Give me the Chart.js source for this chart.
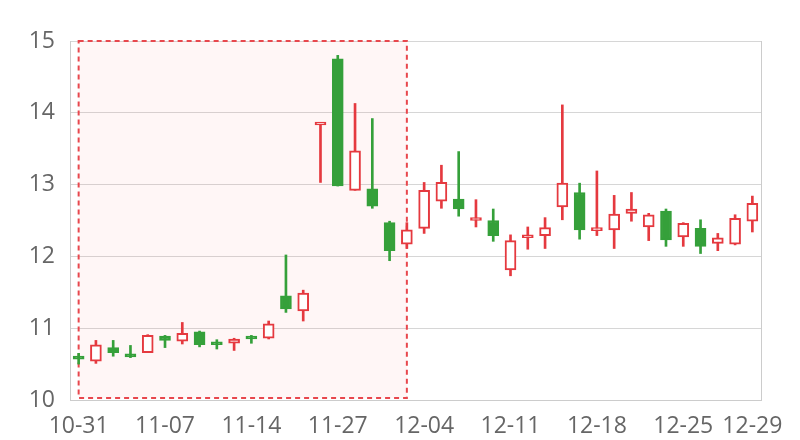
<!DOCTYPE html>
<html>
<head>
<meta charset="utf-8">
<script src="https://cdn.jsdelivr.net/npm/chart.js@4.4.1/dist/chart.umd.min.js"></script>
<style>
  html, body { margin: 0; padding: 0; background: #fff; }
  #wrap { width: 800px; height: 440px; }
</style>
</head>
<body>
<div id="wrap"><canvas id="chart"></canvas></div>
<script>
const dates = [
  "10-31", "11-01", "11-02", "11-03", "11-06", "11-07", "11-08", "11-09", "11-10", "11-13",
  "11-14", "11-15", "11-16", "11-17", "11-20", "11-27", "11-28", "11-29", "11-30", "12-01",
  "12-04", "12-05", "12-06", "12-07", "12-08", "12-11", "12-12", "12-13", "12-14", "12-15",
  "12-18", "12-19", "12-20", "12-21", "12-22", "12-25", "12-26", "12-27", "12-28", "12-29"
]
const shownTicks = ["10-31", "11-07", "11-14", "11-27", "12-04", "12-11", "12-18", "12-25", "12-29"]

const open = [
  10.60, 10.54, 10.73, 10.62, 10.66, 10.89, 10.82, 10.95, 10.81, 10.79,
  10.89, 10.86, 11.45, 11.24, 13.83, 14.75, 12.92, 12.94, 12.47, 12.17,
  12.39, 12.77, 12.80, 12.50, 12.50, 11.81, 12.26, 12.29, 12.69, 12.89,
  12.36, 12.37, 12.60, 12.41, 12.63, 12.27, 12.39, 12.18, 12.17, 12.49
]
const close = [
  10.57, 10.77, 10.66, 10.60, 10.90, 10.83, 10.93, 10.77, 10.77, 10.85,
  10.85, 11.06, 11.27, 11.49, 13.83, 12.98, 13.47, 12.70, 12.08, 12.37,
  12.92, 13.03, 12.66, 12.53, 12.29, 12.22, 12.30, 12.40, 13.02, 12.37,
  12.38, 12.59, 12.66, 12.58, 12.23, 12.46, 12.14, 12.26, 12.53, 12.74
]
const high = [
  10.65, 10.83, 10.83, 10.76, 10.91, 10.90, 11.08, 10.96, 10.84, 10.86,
  10.90, 11.10, 12.02, 11.53, 13.83, 14.80, 14.13, 13.92, 12.49, 12.47,
  13.03, 13.27, 13.46, 12.79, 12.66, 12.30, 12.41, 12.54, 14.11, 13.02,
  13.19, 12.85, 12.89, 12.60, 12.66, 12.47, 12.51, 12.32, 12.58, 12.84
]
const low = [
  10.50, 10.51, 10.61, 10.59, 10.66, 10.73, 10.78, 10.74, 10.71, 10.69,
  10.79, 10.85, 11.22, 11.10, 13.03, 12.98, 12.92, 12.67, 11.94, 12.11,
  12.32, 12.67, 12.56, 12.41, 12.21, 11.73, 12.10, 12.11, 12.51, 12.24,
  12.29, 12.11, 12.49, 12.22, 12.14, 12.14, 12.04, 12.08, 12.16, 12.34
]

// highlighted range
const areaStart = "10-31"
const areaEnd = "12-01"

const RED = "#e5393f"
const GREEN = "#35a03a"
const isUp = i => close[i] >= open[i]

const markArea = {
  id: "markArea",
  beforeDatasetsDraw(chart) {
    const { ctx, scales: { x, y }, chartArea } = chart
    const x0 = x.getPixelForValue(dates.indexOf(areaStart))
    const x1 = x.getPixelForValue(dates.indexOf(areaEnd))
    const y0 = y.getPixelForValue(15)
    const y1 = y.getPixelForValue(10) - 2
    ctx.save()
    ctx.fillStyle = "rgba(255, 80, 80, 0.05)"
    ctx.fillRect(x0, y0, x1 - x0, y1 - y0)
    ctx.strokeStyle = "#e8474d"
    ctx.lineWidth = 2
    ctx.setLineDash([5, 4])
    ctx.strokeRect(x0, y0, x1 - x0, y1 - y0)
    ctx.restore()

    // right frame line
    ctx.save()
    ctx.strokeStyle = "#cccccc"
    ctx.lineWidth = 1
    ctx.beginPath()
    ctx.moveTo(chartArea.right + 0.5, chartArea.top)
    ctx.lineTo(chartArea.right + 0.5, chartArea.bottom)
    ctx.stroke()
    ctx.restore()
  }
}

new Chart(document.getElementById("chart"), {
  type: "bar",
  data: {
    labels: dates,
    datasets: [
      {
        data: dates.map((d, i) => [open[i], close[i]]),
        grouped: false,
        barThickness: 11,
        minBarLength: 3,
        borderWidth: 2,
        borderSkipped: false,
        backgroundColor: c => isUp(c.dataIndex) ? "#ffffff" : GREEN,
        borderColor: c => isUp(c.dataIndex) ? RED : GREEN
      },
      {
        data: dates.map((d, i) => [low[i], high[i]]),
        grouped: false,
        barThickness: 2,
        borderWidth: 0,
        backgroundColor: c => isUp(c.dataIndex) ? RED : GREEN
      }
    ]
  },
  options: {
    responsive: true,
    maintainAspectRatio: false,
    animation: false,
    layout: { padding: { top: 41, right: 39, left: 0, bottom: 0 } },
    plugins: { legend: { display: false }, tooltip: { enabled: false } },
    scales: {
      x: {
        afterFit: s => { s.height = 40 },
        grid: { display: false, drawTicks: false },
        border: { color: "#cccccc" },
        ticks: {
          autoSkip: false,
          maxRotation: 0,
          padding: 13,
          color: "#666666",
          font: { family: "Open Sans", size: 23 },
          callback: (v, i) => shownTicks.includes(dates[i]) ? dates[i] : ""
        }
      },
      y: {
        min: 10,
        max: 15,
        afterFit: s => { s.width = 70 },
        grid: { color: "#d6d6d6", drawTicks: false },
        border: { color: "#cccccc" },
        ticks: {
          stepSize: 1,
          padding: 15,
          color: "#666666",
          font: { family: "Open Sans", size: 23 }
        }
      }
    }
  },
  plugins: [markArea]
})
</script>
</body>
</html>
